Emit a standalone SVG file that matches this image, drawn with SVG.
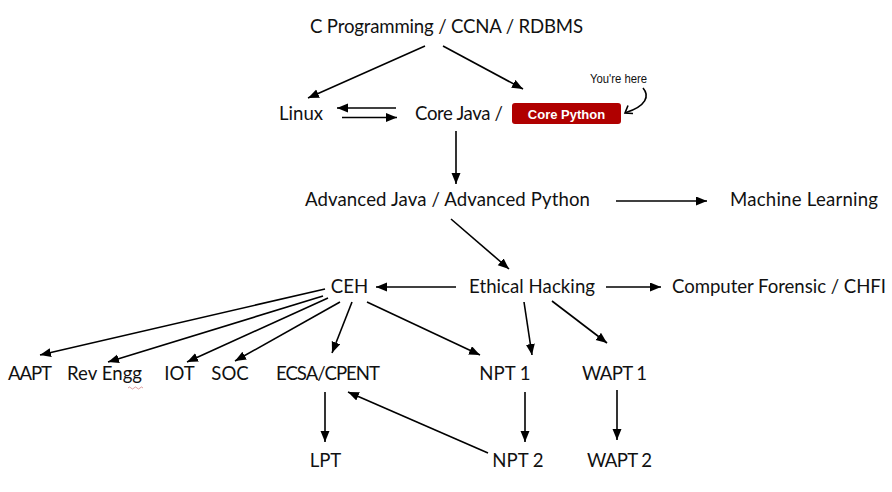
<svg xmlns="http://www.w3.org/2000/svg" width="892" height="492" viewBox="0 0 892 492">
  <style>
    .t { font-family: Lato, "Open Sans", "Liberation Sans", sans-serif; font-size: 18.6px; fill: #111; }
    .m { text-anchor: middle; }
    .c { stroke: #000; stroke-width: 1.6; fill: none; marker-end: url(#ah); }
    .tag { font-family: "Liberation Sans", Arial, sans-serif; font-size: 13px; fill: #111; }
    .btn { font-family: "Liberation Sans", Arial, sans-serif; font-size: 13px; font-weight: bold; fill: #fff; }
  </style>
  <defs>
    <marker id="ah" markerUnits="userSpaceOnUse" markerWidth="12" markerHeight="10" refX="11" refY="4.5" orient="auto">
      <path d="M0,0 L11,4.5 L0,9 z" fill="#000"/>
    </marker>
  </defs>
  <rect width="892" height="492" fill="#fff"/>

  <g id="connectors">
    <line class="c" x1="425" y1="46" x2="308" y2="98"/>
    <line class="c" x1="443" y1="46" x2="523" y2="89"/>
    <line class="c" x1="396" y1="108" x2="337" y2="108"/>
    <line class="c" x1="342" y1="117.5" x2="397" y2="117.5"/>
    <line class="c" x1="456" y1="131" x2="456" y2="184"/>
    <line class="c" x1="616" y1="201" x2="707" y2="201"/>
    <line class="c" x1="451" y1="219" x2="509" y2="269"/>
    <line class="c" x1="456" y1="287" x2="376" y2="287"/>
    <line class="c" x1="606" y1="287" x2="661" y2="287"/>
    <line class="c" x1="325" y1="289" x2="40" y2="355"/>
    <line class="c" x1="323" y1="296" x2="108" y2="362"/>
    <line class="c" x1="328" y1="298" x2="187" y2="362"/>
    <line class="c" x1="340" y1="302" x2="235" y2="361"/>
    <line class="c" x1="352" y1="302" x2="332" y2="353"/>
    <line class="c" x1="367" y1="302" x2="480" y2="355"/>
    <line class="c" x1="524" y1="302" x2="532" y2="355"/>
    <line class="c" x1="552" y1="301" x2="607" y2="343"/>
    <line class="c" x1="325" y1="392" x2="325" y2="442"/>
    <line class="c" x1="525" y1="392" x2="525" y2="442"/>
    <line class="c" x1="617" y1="390" x2="617" y2="440"/>
    <line class="c" x1="488" y1="453" x2="348" y2="392"/>
  </g>

  <g id="n-cprog"><text class="t" x="310" y="33" textLength="273">C Programming / CCNA / RDBMS</text></g>
  <g id="n-linux"><text class="t" x="279" y="120" textLength="44">Linux</text></g>
  <g id="n-core">
    <text class="t" x="415" y="120" textLength="88">Core Java /</text>
    <rect x="512" y="103" width="109" height="21" rx="3" fill="#b00000"/>
    <text class="btn" x="566.5" y="118.5" text-anchor="middle">Core Python</text>
  </g>
  <g id="n-here">
    <text class="tag" x="590" y="83" textLength="57" lengthAdjust="spacingAndGlyphs">You're here</text>
    <path d="M643,88 C650,96 646,106 626,112.5" stroke="#000" stroke-width="1.6" fill="none"/>
    <path d="M628,105.5 L625,113 L633,113.5" stroke="#000" stroke-width="1.6" fill="none"/>
  </g>
  <g id="n-adv"><text class="t" x="305" y="206" textLength="285">Advanced Java / Advanced Python</text></g>
  <g id="n-ml"><text class="t" x="730" y="206" textLength="148">Machine Learning</text></g>
  <g id="n-ceh"><text class="t m" x="349.5" y="293">CEH</text></g>
  <g id="n-eh"><text class="t" x="469" y="293" textLength="126">Ethical Hacking</text></g>
  <g id="n-chfi"><text class="t" x="672" y="293" textLength="214">Computer Forensic / CHFI</text></g>
  <g id="n-aapt"><text class="t" x="8" y="380" textLength="44">AAPT</text></g>
  <g id="n-rev">
    <text class="t" x="67" y="380" textLength="75">Rev Engg</text>
    <path d="M128,388 q1.5,-2 3,0 t3,0 t3,0 t3,0 t3,0" stroke="#c05050" stroke-width="0.8" fill="none" opacity="0.7"/>
  </g>
  <g id="n-iot"><text class="t m" x="179.5" y="380">IOT</text></g>
  <g id="n-soc"><text class="t m" x="230" y="380">SOC</text></g>
  <g id="n-ecsa"><text class="t" x="276" y="380" textLength="104">ECSA/CPENT</text></g>
  <g id="n-npt1"><text class="t m" x="505" y="380">NPT 1</text></g>
  <g id="n-wapt1"><text class="t" x="582" y="380" textLength="65">WAPT 1</text></g>
  <g id="n-lpt"><text class="t m" x="325.5" y="467">LPT</text></g>
  <g id="n-npt2"><text class="t m" x="518" y="467">NPT 2</text></g>
  <g id="n-wapt2"><text class="t" x="587" y="467" textLength="65">WAPT 2</text></g>
</svg>
